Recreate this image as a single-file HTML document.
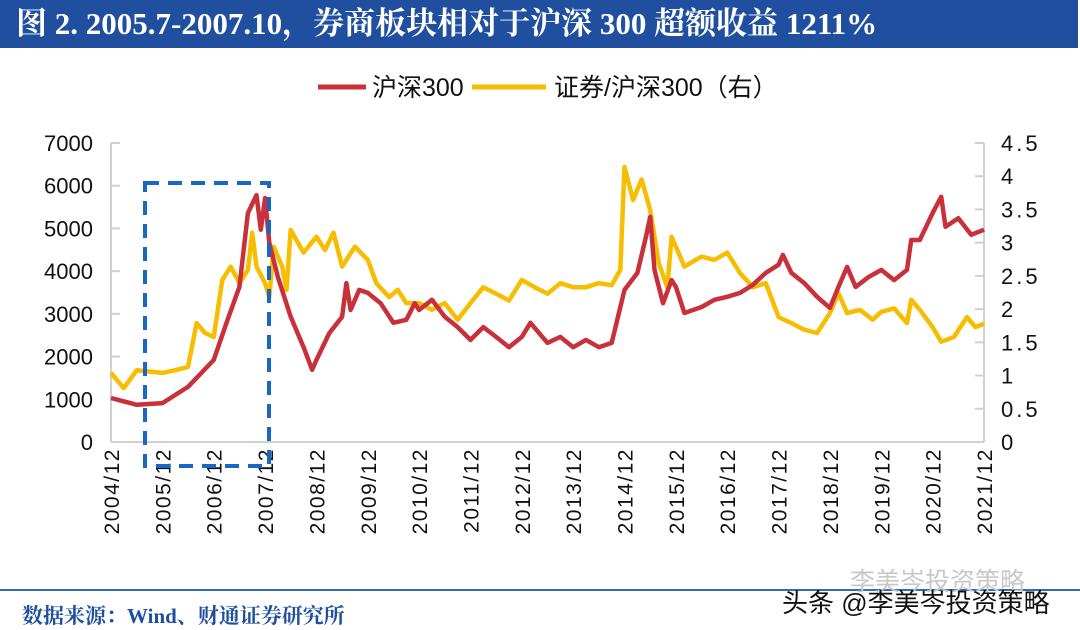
<!DOCTYPE html>
<html><head><meta charset="utf-8">
<style>
html,body{margin:0;padding:0;background:#fff;}
body{width:1080px;height:629px;position:relative;overflow:hidden;font-family:"Liberation Sans","Noto Sans CJK SC",sans-serif;}
#title{position:absolute;left:0;top:0;width:1078px;height:48px;background:#1f4f9e;color:#fff;font-family:"Liberation Serif","Noto Serif CJK SC",serif;font-weight:bold;font-size:31px;line-height:48px;padding-left:16px;box-sizing:border-box;white-space:nowrap;}
#foot-line{position:absolute;left:0;top:589px;width:1080px;height:2px;background:#2f6db5;}
#source{position:absolute;left:22px;top:600px;color:#1f4f9e;font-weight:bold;font-size:21px;font-family:"Liberation Serif","Noto Serif CJK SC",serif;}
#wm1{position:absolute;left:850px;top:562px;color:#c8c8c8;font-size:25px;}
#wm2{position:absolute;left:782px;top:583px;color:#111;font-size:26px;}
</style></head><body>
<div id="title">图 2. 2005.7-2007.10，券商板块相对于沪深 300 超额收益 1211%</div>
<svg id="chart" width="1080" height="629" style="position:absolute;left:0;top:0"></svg>
<div id="foot-line"></div>
<div id="source">数据来源：Wind、财通证券研究所</div>
<div id="wm1">李美岑投资策略</div>
<div id="wm2">头条 @李美岑投资策略</div>
<script>
const leftTicks=[0,1000,2000,3000,4000,5000,6000,7000];
const rightTicks=["0","0.5","1","1.5","2","2.5","3","3.5","4","4.5"];
const xTickYears=[2004,2005,2006,2007,2008,2009,2010,2011,2012,2013,2014,2015,2016,2017,2018,2019,2020,2021];
const hsDates=["2004-12","2005-06","2005-12","2006-06","2006-12","2007-03","2007-06","2007-08","2007-10","2007-11","2007-12","2008-01","2008-03","2008-06","2008-09","2008-11","2008-12","2009-03","2009-06","2009-07","2009-08","2009-10","2009-12","2010-03","2010-06","2010-09","2010-11","2010-12","2011-03","2011-06","2011-09","2011-12","2012-03","2012-06","2012-09","2012-12","2013-02","2013-06","2013-09","2013-12","2014-03","2014-06","2014-09","2014-12","2015-03","2015-05","2015-06","2015-07","2015-09","2015-11","2015-12","2016-02","2016-06","2016-09","2016-12","2017-03","2017-06","2017-09","2017-12","2018-01","2018-03","2018-06","2018-09","2018-12","2019-02","2019-04","2019-06","2019-09","2019-12","2020-03","2020-06","2020-07","2020-09","2020-12","2021-02","2021-03","2021-06","2021-09","2021-12"];
const hsValues=[1030,870,910,1290,1920,2790,3630,5360,5780,4970,5710,4660,3860,2930,2220,1690,1920,2550,2930,3720,3090,3560,3490,3250,2790,2860,3250,3090,3330,2930,2690,2390,2690,2460,2220,2460,2790,2320,2460,2220,2390,2220,2320,3560,3960,4800,5270,4030,3250,3790,3630,3020,3160,3330,3400,3490,3680,3960,4150,4380,3960,3720,3400,3140,3630,4100,3630,3860,4030,3790,4030,4730,4730,5360,5740,5040,5240,4850,4970];
const ratioDates=["2004-12","2005-03","2005-06","2005-12","2006-03","2006-06","2006-08","2006-10","2006-12","2007-02","2007-04","2007-06","2007-08","2007-09","2007-10","2007-12","2008-01","2008-02","2008-04","2008-05","2008-06","2008-09","2008-12","2009-02","2009-04","2009-06","2009-09","2009-12","2010-02","2010-05","2010-07","2010-09","2010-12","2011-03","2011-06","2011-09","2011-12","2012-03","2012-06","2012-09","2012-12","2013-03","2013-06","2013-09","2013-12","2014-03","2014-06","2014-09","2014-11","2014-12","2015-02","2015-04","2015-06","2015-08","2015-10","2015-11","2016-02","2016-06","2016-09","2016-12","2017-03","2017-06","2017-09","2017-12","2018-03","2018-06","2018-09","2018-12","2019-02","2019-04","2019-07","2019-10","2019-12","2020-03","2020-06","2020-07","2020-09","2020-12","2021-02","2021-05","2021-08","2021-10","2021-12"];
const ratioValues=[1.04,0.81,1.08,1.04,1.08,1.13,1.79,1.64,1.58,2.44,2.64,2.39,2.59,3.15,2.64,2.39,2.18,2.94,2.64,2.29,3.19,2.85,3.09,2.89,3.15,2.64,2.94,2.74,2.39,2.18,2.29,2.09,2.09,1.99,2.09,1.84,2.09,2.33,2.23,2.13,2.44,2.33,2.23,2.39,2.33,2.33,2.39,2.36,2.59,4.14,3.64,3.95,3.49,2.69,2.33,3.09,2.64,2.79,2.74,2.85,2.54,2.33,2.39,1.88,1.79,1.69,1.64,1.94,2.24,1.94,1.99,1.84,1.96,2.01,1.79,2.14,1.99,1.73,1.51,1.58,1.88,1.73,1.78];

const NS="http://www.w3.org/2000/svg";
const svg=document.getElementById('chart');
const X0=111,X1=984,Y0=442,Y1=143;
function yr(d){const p=d.split('-');return +p[0]+(+p[1]-12)/12;}
function xs(d){return X0+(yr(d)-2004)/17*(X1-X0);}
function xYear(y){return X0+(y-2004)/17*(X1-X0);}
function yl(v){return Y0-v/7000*(Y0-Y1);}
function yrr(v){return Y0-v/4.5*(Y0-Y1);}
function mk(tag,attrs){const e=document.createElementNS(NS,tag);for(const k in attrs)e.setAttribute(k,attrs[k]);svg.appendChild(e);return e;}

let e=mk('line',{x1:X0,y1:Y1,x2:X0,y2:Y0,stroke:'#d0d0d0','stroke-width':2});


e=mk('line',{x1:X1,y1:Y1,x2:X1,y2:Y0,stroke:'#d0d0d0','stroke-width':2});


e=mk('line',{x1:X0,y1:Y0,x2:X1,y2:Y0,stroke:'#d0d0d0','stroke-width':2});



leftTicks.forEach(v=>{
  const y=yl(v);
  let t=mk('line',{x1:X0,y1:y,x2:X0+9,y2:y,stroke:'#d0d0d0','stroke-width':2});
  
  
  let tx=mk('text',{x:93,y:y+8,'text-anchor':'end','font-size':22,fill:'#111','font-family':'Liberation Sans, sans-serif'});
  tx.textContent=v;
  
  
});
rightTicks.forEach(s=>{
  const y=yrr(+s);
  let t=mk('line',{x1:X1-9,y1:y,x2:X1,y2:y,stroke:'#d0d0d0','stroke-width':2});
  
  
  let tx=mk('text',{x:1001,y:y+8,'font-size':22,fill:'#111','font-family':'Liberation Sans, sans-serif','letter-spacing':'3'});
  tx.textContent=s;
  
  
});
xTickYears.forEach(yv=>{
  const x=xYear(yv);
  let tx=mk('text',{x:0,y:0,'text-anchor':'end','font-size':21,fill:'#111','font-family':'Liberation Sans, sans-serif','letter-spacing':'1.5',transform:`translate(${x+8},448) rotate(-90)`});
  tx.textContent=yv+'/12';
  
  
});

let ptsY=ratioDates.map((d,i)=>xs(d).toFixed(1)+','+yrr(ratioValues[i]).toFixed(1)).join(' ');
e=mk('polyline',{points:ptsY,fill:'none',stroke:'#f7bd00','stroke-width':4.5,'stroke-linejoin':'round'});


let ptsR=hsDates.map((d,i)=>xs(d).toFixed(1)+','+yl(hsValues[i]).toFixed(1)).join(' ');
e=mk('polyline',{points:ptsR,fill:'none',stroke:'#c8303a','stroke-width':4.5,'stroke-linejoin':'round'});



e=mk('rect',{x:145,y:183,width:124,height:283,fill:'none',stroke:'#1668c4','stroke-width':4,'stroke-dasharray':'14 9'});



e=mk('line',{x1:318,y1:87,x2:366,y2:87,stroke:'#c8303a','stroke-width':5});


e=mk('text',{x:372,y:96,'font-size':25,fill:'#111'});
e.textContent='沪深300';


e=mk('line',{x1:472,y1:87,x2:546,y2:87,stroke:'#f7bd00','stroke-width':5});


e=mk('text',{x:554,y:96,'font-size':25,fill:'#111'});
e.textContent='证券/沪深300（右）';


</script>
</body></html>
